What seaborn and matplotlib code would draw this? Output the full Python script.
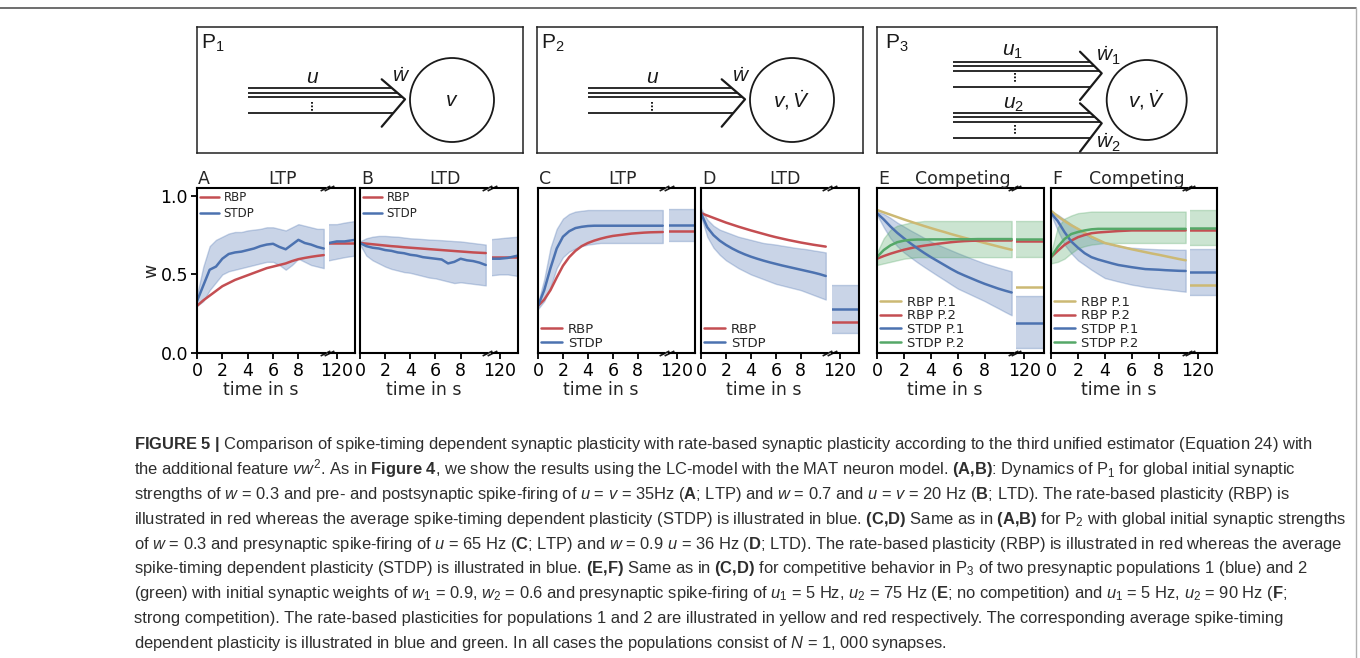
import matplotlib
matplotlib.use("Agg")
import matplotlib.pyplot as plt
import seaborn as sns
from matplotlib.patches import Circle
from matplotlib.lines import Line2D
from matplotlib import font_manager as fm

# ------------------------------------------------------------------ data
t_main = [0.0, 0.5, 1.0, 1.5, 2.0, 2.5, 3.0, 3.5, 4.0, 4.5, 5.0,
          5.5, 6.0, 6.5, 7.0, 7.5, 8.0, 8.5, 9.0, 9.5, 10.0]
t_late = [114, 117, 120, 123, 127]
main_ticks = [0, 2, 4, 6, 8]
late_ticks = [120]
y_ticks = [0.0, 0.5, 1.0]
y_ticklabels = ["0.0", "0.5", "1.0"]

# Panel A (P1, LTP)
A_rbp = [0.30, 0.335, 0.365, 0.395, 0.425, 0.445, 0.465, 0.48, 0.495, 0.51, 0.525,
         0.54, 0.55, 0.56, 0.57, 0.585, 0.597, 0.605, 0.612, 0.618, 0.623]
A_stdp = [0.33, 0.43, 0.53, 0.55, 0.60, 0.63, 0.64, 0.645, 0.655, 0.665, 0.68,
          0.69, 0.695, 0.675, 0.66, 0.69, 0.72, 0.70, 0.69, 0.675, 0.665]
A_hi = [0.37, 0.55, 0.68, 0.72, 0.74, 0.76, 0.77, 0.77, 0.78, 0.785, 0.79,
        0.80, 0.80, 0.79, 0.78, 0.80, 0.82, 0.81, 0.80, 0.79, 0.79]
A_lo = [0.30, 0.33, 0.40, 0.45, 0.50, 0.52, 0.53, 0.54, 0.55, 0.56, 0.57,
        0.58, 0.58, 0.56, 0.53, 0.56, 0.60, 0.58, 0.56, 0.55, 0.54]
A_rbp_late = [0.70, 0.70, 0.70, 0.70, 0.70]
A_stdp_late = [0.69, 0.70, 0.71, 0.71, 0.72]
A_hi_late = [0.81, 0.82, 0.82, 0.83, 0.84]
A_lo_late = [0.58, 0.59, 0.60, 0.61, 0.62]

# Panel B (P1, LTD)
B_rbp = [0.70, 0.696, 0.692, 0.688, 0.684, 0.68, 0.677, 0.673, 0.670, 0.667, 0.664,
         0.661, 0.658, 0.655, 0.652, 0.649, 0.646, 0.643, 0.640, 0.638, 0.636]
B_stdp = [0.70, 0.68, 0.67, 0.665, 0.655, 0.65, 0.64, 0.635, 0.625, 0.62, 0.61,
          0.605, 0.60, 0.595, 0.57, 0.58, 0.60, 0.59, 0.585, 0.575, 0.56]
B_hi = [0.71, 0.73, 0.74, 0.745, 0.745, 0.742, 0.74, 0.735, 0.73, 0.728, 0.725,
        0.722, 0.72, 0.718, 0.715, 0.712, 0.71, 0.705, 0.70, 0.695, 0.69]
B_lo = [0.69, 0.62, 0.59, 0.57, 0.55, 0.535, 0.525, 0.515, 0.51, 0.50, 0.49,
        0.48, 0.475, 0.465, 0.455, 0.445, 0.45, 0.445, 0.44, 0.435, 0.43]
B_rbp_late = [0.61, 0.61, 0.61, 0.61, 0.61]
B_stdp_late = [0.60, 0.60, 0.60, 0.605, 0.62]
B_hi_late = [0.72, 0.725, 0.73, 0.735, 0.74]
B_lo_late = [0.49, 0.495, 0.50, 0.50, 0.49]

# Panel C (P2, LTP)
C_rbp = [0.30, 0.34, 0.40, 0.48, 0.555, 0.61, 0.65, 0.68, 0.70, 0.715, 0.727,
         0.737, 0.745, 0.75, 0.755, 0.76, 0.763, 0.766, 0.768, 0.769, 0.77]
C_stdp = [0.30, 0.40, 0.54, 0.665, 0.74, 0.775, 0.795, 0.803, 0.808, 0.81, 0.81,
          0.81, 0.81, 0.81, 0.81, 0.81, 0.81, 0.81, 0.81, 0.81, 0.81]
C_hi = [0.32, 0.47, 0.67, 0.79, 0.855, 0.885, 0.90, 0.905, 0.91, 0.91, 0.91,
        0.91, 0.91, 0.91, 0.91, 0.91, 0.91, 0.91, 0.91, 0.91, 0.91]
C_lo = [0.28, 0.33, 0.42, 0.54, 0.61, 0.645, 0.665, 0.68, 0.69, 0.695, 0.70,
        0.70, 0.70, 0.70, 0.70, 0.70, 0.70, 0.70, 0.70, 0.70, 0.70]
C_rbp_late = [0.775, 0.775, 0.775, 0.775, 0.775]
C_stdp_late = [0.815, 0.815, 0.815, 0.815, 0.815]
C_hi_late = [0.915, 0.915, 0.915, 0.915, 0.915]
C_lo_late = [0.71, 0.71, 0.71, 0.71, 0.71]

# Panel D (P2, LTD)
D_rbp = [0.89, 0.875, 0.86, 0.845, 0.83, 0.817, 0.804, 0.792, 0.78, 0.769, 0.758,
         0.747, 0.737, 0.728, 0.719, 0.711, 0.703, 0.696, 0.689, 0.683, 0.677]
D_stdp = [0.89, 0.80, 0.75, 0.715, 0.688, 0.665, 0.645, 0.628, 0.613, 0.60, 0.588,
          0.577, 0.567, 0.557, 0.548, 0.539, 0.53, 0.521, 0.512, 0.502, 0.49]
D_hi = [0.92, 0.85, 0.81, 0.785, 0.77, 0.755, 0.74, 0.73, 0.72, 0.71, 0.70,
        0.695, 0.69, 0.683, 0.677, 0.67, 0.665, 0.66, 0.653, 0.647, 0.64]
D_lo = [0.87, 0.74, 0.67, 0.625, 0.59, 0.565, 0.54, 0.52, 0.50, 0.485, 0.47,
        0.455, 0.44, 0.43, 0.42, 0.41, 0.40, 0.385, 0.37, 0.355, 0.34]
D_rbp_late = [0.195, 0.195, 0.195, 0.195, 0.195]
D_stdp_late = [0.28, 0.28, 0.28, 0.28, 0.28]
D_hi_late = [0.43, 0.43, 0.43, 0.43, 0.43]
D_lo_late = [0.125, 0.125, 0.125, 0.125, 0.125]

# Panel E (P3, no competition)
E_rbp1 = [0.91, 0.895, 0.88, 0.865, 0.85, 0.836, 0.822, 0.808, 0.795, 0.782, 0.77,
          0.757, 0.745, 0.733, 0.722, 0.711, 0.70, 0.689, 0.678, 0.667, 0.657]
E_rbp2 = [0.60, 0.617, 0.632, 0.645, 0.657, 0.667, 0.676, 0.683, 0.689, 0.695, 0.70,
          0.705, 0.709, 0.712, 0.714, 0.715, 0.716, 0.716, 0.716, 0.716, 0.716]
E_stdp1 = [0.89, 0.85, 0.805, 0.765, 0.73, 0.697, 0.666, 0.637, 0.61, 0.585, 0.56,
           0.535, 0.512, 0.493, 0.475, 0.457, 0.44, 0.425, 0.41, 0.397, 0.385]
E_hi1 = [0.90, 0.885, 0.86, 0.83, 0.805, 0.78, 0.757, 0.733, 0.71, 0.69, 0.672,
         0.654, 0.636, 0.619, 0.602, 0.586, 0.57, 0.557, 0.544, 0.532, 0.52]
E_lo1 = [0.88, 0.80, 0.73, 0.68, 0.64, 0.608, 0.577, 0.548, 0.52, 0.492, 0.465,
         0.437, 0.41, 0.39, 0.37, 0.35, 0.33, 0.307, 0.285, 0.262, 0.24]
E_stdp2 = [0.61, 0.655, 0.685, 0.705, 0.715, 0.72, 0.722, 0.722, 0.723, 0.723, 0.723,
           0.724, 0.724, 0.724, 0.724, 0.725, 0.725, 0.725, 0.725, 0.725, 0.725]
E_hi2 = [0.64, 0.73, 0.785, 0.81, 0.82, 0.83, 0.835, 0.84, 0.84, 0.84, 0.84,
         0.84, 0.84, 0.84, 0.84, 0.84, 0.84, 0.84, 0.84, 0.84, 0.84]
E_lo2 = [0.56, 0.57, 0.58, 0.59, 0.60, 0.605, 0.61, 0.61, 0.61, 0.61, 0.61,
         0.61, 0.61, 0.61, 0.61, 0.61, 0.61, 0.61, 0.61, 0.61, 0.61]
E_rbp1_late = [0.42, 0.42, 0.42, 0.42, 0.42]
E_rbp2_late = [0.713, 0.713, 0.713, 0.713, 0.713]
E_stdp1_late = [0.193, 0.193, 0.193, 0.193, 0.193]
E_hi1_late = [0.36, 0.36, 0.36, 0.36, 0.36]
E_lo1_late = [0.03, 0.03, 0.03, 0.03, 0.03]
E_stdp2_late = [0.726, 0.726, 0.726, 0.726, 0.726]
E_hi2_late = [0.84, 0.84, 0.84, 0.84, 0.84]
E_lo2_late = [0.61, 0.61, 0.61, 0.61, 0.61]

# Panel F (P3, strong competition)
F_rbp1 = [0.905, 0.87, 0.84, 0.813, 0.79, 0.765, 0.74, 0.72, 0.70, 0.69, 0.68,
          0.67, 0.66, 0.651, 0.642, 0.633, 0.625, 0.616, 0.607, 0.598, 0.59]
F_rbp2 = [0.61, 0.65, 0.688, 0.715, 0.737, 0.751, 0.762, 0.767, 0.77, 0.773, 0.776,
          0.778, 0.78, 0.78, 0.78, 0.78, 0.78, 0.78, 0.78, 0.78, 0.78]
F_stdp1 = [0.89, 0.84, 0.77, 0.71, 0.67, 0.635, 0.61, 0.595, 0.583, 0.571, 0.56,
           0.553, 0.546, 0.54, 0.534, 0.532, 0.53, 0.527, 0.525, 0.523, 0.522]
F_hi1 = [0.90, 0.88, 0.85, 0.82, 0.79, 0.76, 0.73, 0.715, 0.70, 0.69, 0.68,
         0.675, 0.67, 0.667, 0.664, 0.662, 0.66, 0.659, 0.658, 0.657, 0.657]
F_lo1 = [0.88, 0.78, 0.69, 0.635, 0.59, 0.56, 0.53, 0.503, 0.477, 0.466, 0.455,
         0.445, 0.435, 0.428, 0.42, 0.415, 0.41, 0.405, 0.40, 0.395, 0.39]
F_stdp2 = [0.61, 0.675, 0.725, 0.757, 0.77, 0.78, 0.787, 0.79, 0.79, 0.79, 0.79,
           0.79, 0.79, 0.79, 0.79, 0.79, 0.79, 0.79, 0.79, 0.79, 0.79]
F_hi2 = [0.64, 0.80, 0.855, 0.875, 0.89, 0.895, 0.90, 0.90, 0.90, 0.90, 0.90,
         0.90, 0.90, 0.90, 0.90, 0.90, 0.90, 0.90, 0.90, 0.90, 0.90]
F_lo2 = [0.57, 0.58, 0.60, 0.635, 0.666, 0.68, 0.69, 0.695, 0.70, 0.70, 0.70,
         0.70, 0.70, 0.70, 0.70, 0.70, 0.70, 0.70, 0.70, 0.70, 0.70]
F_rbp1_late = [0.43, 0.43, 0.43, 0.43, 0.43]
F_rbp2_late = [0.78, 0.78, 0.78, 0.78, 0.78]
F_stdp1_late = [0.514, 0.514, 0.514, 0.514, 0.514]
F_hi1_late = [0.66, 0.66, 0.66, 0.66, 0.66]
F_lo1_late = [0.37, 0.37, 0.37, 0.37, 0.37]
F_stdp2_late = [0.798, 0.798, 0.798, 0.798, 0.798]
F_hi2_late = [0.91, 0.91, 0.91, 0.91, 0.91]
F_lo2_late = [0.69, 0.69, 0.69, 0.69, 0.69]

caption_lines = [
    r"$\mathbf{FIGURE\ 5\ |}$ Comparison of spike-timing dependent synaptic plasticity with rate-based synaptic plasticity according to the third unified estimator (Equation 24) with",
    r"the additional feature $vw^2$. As in $\mathbf{Figure\ 4}$, we show the results using the LC-model with the MAT neuron model. $\mathbf{(A{,}B)}$: Dynamics of P$_1$ for global initial synaptic",
    r"strengths of $w$ = 0.3 and pre- and postsynaptic spike-firing of $u$ = $v$ = 35Hz ($\mathbf{A}$; LTP) and $w$ = 0.7 and $u$ = $v$ = 20 Hz ($\mathbf{B}$; LTD). The rate-based plasticity (RBP) is",
    r"illustrated in red whereas the average spike-timing dependent plasticity (STDP) is illustrated in blue. $\mathbf{(C{,}D)}$ Same as in $\mathbf{(A{,}B)}$ for P$_2$ with global initial synaptic strengths",
    r"of $w$ = 0.3 and presynaptic spike-firing of $u$ = 65 Hz ($\mathbf{C}$; LTP) and $w$ = 0.9 $u$ = 36 Hz ($\mathbf{D}$; LTD). The rate-based plasticity (RBP) is illustrated in red whereas the average",
    r"spike-timing dependent plasticity (STDP) is illustrated in blue. $\mathbf{(E{,}F)}$ Same as in $\mathbf{(C{,}D)}$ for competitive behavior in P$_3$ of two presynaptic populations 1 (blue) and 2",
    r"(green) with initial synaptic weights of $w_1$ = 0.9, $w_2$ = 0.6 and presynaptic spike-firing of $u_1$ = 5 Hz, $u_2$ = 75 Hz ($\mathbf{E}$; no competition) and $u_1$ = 5 Hz, $u_2$ = 90 Hz ($\mathbf{F}$;",
    r"strong competition). The rate-based plasticities for populations 1 and 2 are illustrated in yellow and red respectively. The corresponding average spike-timing",
    r"dependent plasticity is illustrated in blue and green. In all cases the populations consist of $N$ = 1, 000 synapses.",
]

# ------------------------------------------------------------------ style
sns.set_theme(style="ticks", palette="deep")
names = {f.name for f in fm.fontManager.ttflist}
narrow = "Liberation Sans Narrow" in names
cap_font = "Liberation Sans Narrow" if narrow else "Liberation Sans"
cap_size = 13.2 if narrow else 11.9
plt.rcParams["font.family"] = ["DejaVu Sans"]
plt.rcParams["mathtext.fontset"] = "custom"
plt.rcParams["mathtext.rm"] = cap_font
plt.rcParams["mathtext.sf"] = cap_font
plt.rcParams["mathtext.it"] = cap_font + ":italic"
plt.rcParams["mathtext.bf"] = cap_font + ":bold"
plt.rcParams["axes.linewidth"] = 1.5
plt.rcParams["axes.edgecolor"] = "black"

pal = sns.color_palette("deep")
BLUE, RED, GREEN, YELLOW = pal[0], pal[3], pal[2], pal[8]

W, H = 1360, 658
fig = plt.figure(figsize=(W / 100, H / 100), dpi=100)
fig.patch.set_facecolor("white")


def px_axes(x0, x1, y0, y1):
    return fig.add_axes([x0 / W, 1 - y1 / H, (x1 - x0) / W, (y1 - y0) / H])


# page frame
fig.add_artist(Line2D([0, 1356 / W], [1 - 8 / H, 1 - 8 / H], color="#555555", lw=1.2,
                      transform=fig.transFigure))
fig.add_artist(Line2D([1356 / W, 1356 / W], [1 - 8 / H, 0], color="#b0b0b0", lw=1.0,
                      transform=fig.transFigure))

# ------------------------------------------------------------------ diagrams
K = "#1a1a1a"
DFS = 15


def diagram_axes(x0, y0, x1, y1):
    ax = px_axes(x0, x1, y0, y1)
    ax.set_xlim(x0, x1)
    ax.set_ylim(y1, y0)
    ax.set_xticks([])
    ax.set_yticks([])
    ax.set_facecolor("none")
    for s in ax.spines.values():
        s.set_linewidth(1.1)
        s.set_color("#222222")
    return ax


def chevron_x(y, top, tip, bot):
    if y <= tip[1]:
        f = (y - top[1]) / (tip[1] - top[1])
        return top[0] + f * (tip[0] - top[0])
    f = (y - tip[1]) / (bot[1] - tip[1])
    return tip[0] + f * (bot[0] - tip[0])


def bundle(ax, x0, ys, chev, dot_x, dot_y):
    for y in ys:
        ax.plot([x0, chevron_x(y, *chev)], [y, y], color=K, lw=1.3, solid_capstyle="butt")
    ax.plot([c[0] for c in chev], [c[1] for c in chev], color=K, lw=1.6)
    ax.plot([dot_x, dot_x], dot_y, color=K, lw=1.4, ls=(0, (0.9, 0.9)),
            dash_capstyle="butt")


for dx, ptxt, ctxt in [(0, "P$_1$", "$v$"), (340, "P$_2$", r"$v,\dot{V}$")]:
    ax = diagram_axes(197 + dx, 27, 523 + dx, 153)
    chev = ((381.7 + dx, 79.3), (405 + dx, 99.3), (381.7 + dx, 126.7))
    bundle(ax, 248 + dx, [88.3, 92.7, 97.3, 113.3], chev, 311.7 + dx, [101.7, 110.7])
    ax.add_patch(Circle((452 + dx, 100), 42, fill=False, ec=K, lw=1.3))
    ax.text(201 + dx, 43, ptxt, family=cap_font, fontsize=DFS, ha="left", va="center", color=K)
    ax.text(313 + dx, 77, "$u$", fontsize=DFS, ha="center", va="center", color=K)
    ax.text(401 + dx, 76, r"$\dot{w}$", fontsize=DFS, ha="center", va="center", color=K)
    ax.text(452 + dx, 100, ctxt, fontsize=DFS, ha="center", va="center", color=K)

ax = diagram_axes(877, 27, 1217, 153)
chev1 = ((1080, 51.7), (1101.7, 73.3), (1080, 100))
chev2 = ((1080, 103.3), (1101.7, 123.3), (1080, 151.7))
bundle(ax, 953, [61.7, 66, 70.7, 86.7], chev1, 1015, [73, 83])
bundle(ax, 953, [113.3, 117.3, 121.7, 138.3], chev2, 1015, [125, 135])
ax.add_patch(Circle((1146.7, 100), 40, fill=False, ec=K, lw=1.3))
ax.text(885, 43, "P$_3$", family=cap_font, fontsize=DFS, ha="left", va="center", color=K)
ax.text(1012, 51, "$u_1$", fontsize=DFS, ha="center", va="center", color=K)
ax.text(1013, 104, "$u_2$", fontsize=DFS, ha="center", va="center", color=K)
ax.text(1108, 56, r"$\dot{w}_1$", fontsize=DFS, ha="center", va="center", color=K)
ax.text(1108, 143, r"$\dot{w}_2$", fontsize=DFS, ha="center", va="center", color=K)
ax.text(1146.7, 100, r"$v,\dot{V}$", fontsize=DFS, ha="center", va="center", color=K)

# ------------------------------------------------------------------ panels
TOP, BOT = 188, 353
FS = 12.5


def panel(main_px, late_px, letter, title, title_x, bands, lines, leg_loc, leg_fs,
          leg_space, show_y):
    ax1 = px_axes(main_px[0], main_px[1], TOP, BOT)
    ax2 = px_axes(late_px[0], late_px[1], TOP, BOT)
    for color, lo, hi, lo_l, hi_l in bands:
        ax1.fill_between(t_main, lo, hi, color=color, alpha=0.3, lw=1.0)
        ax2.fill_between(t_late, lo_l, hi_l, color=color, alpha=0.3, lw=1.0)
    for label, color, y, y_l in lines:
        sns.lineplot(x=t_main, y=y, ax=ax1, color=color, lw=1.8, label=label)
        sns.lineplot(x=t_late, y=y_l, ax=ax2, color=color, lw=1.8, legend=False)
    for a in (ax1, ax2):
        a.set_ylim(0, 1.05)
        a.tick_params(axis="both", direction="out", length=4, width=1.3, pad=2.5,
                      labelsize=FS, colors="black")
        a.set_facecolor("none")
    ax1.set_xlim(0, 10.1)
    ax1.set_xticks(main_ticks)
    ax2.set_xlim(117, 127)
    ax2.set_xticks(late_ticks)
    ax2.set_yticks([])
    ax1.spines["right"].set_visible(False)
    ax2.spines["left"].set_visible(False)
    if show_y:
        ax1.set_yticks(y_ticks)
        ax1.set_yticklabels(y_ticklabels)
        ax1.set_ylabel("w", fontsize=FS, labelpad=0)
    else:
        ax1.set_yticks([])
        ax1.set_ylabel("")
    ax1.set_xlabel("time in s", fontsize=FS, labelpad=0.5)
    ax2.set_xlabel("")
    ax1.legend(loc=leg_loc, fontsize=leg_fs, frameon=False, handlelength=1.6,
               handletextpad=0.4, borderaxespad=0.15, borderpad=0.1,
               labelspacing=leg_space)
    # break marks
    d = 0.5
    kw = dict(marker=[(-1, -d), (1, d)], markersize=7, linestyle="none", color="k",
              mec="k", mew=1.2, clip_on=False)
    ax1.plot([1, 1], [0, 1], transform=ax1.transAxes, **kw)
    ax2.plot([0, 0], [0, 1], transform=ax2.transAxes, **kw)
    fig.text((main_px[0] + 1) / W, 1 - 183.5 / H, letter, fontsize=FS, ha="left",
             va="baseline")
    fig.text(title_x / W, 1 - 183.5 / H, title, fontsize=FS, ha="center", va="baseline")


panel((197, 325), (329, 355), "A", "LTP", 283,
      [(BLUE, A_lo, A_hi, A_lo_late, A_hi_late)],
      [("RBP", RED, A_rbp, A_rbp_late), ("STDP", BLUE, A_stdp, A_stdp_late)],
      "upper left", 8.5, 0.3, True)
panel((360, 487), (492, 518), "B", "LTD", 445,
      [(BLUE, B_lo, B_hi, B_lo_late, B_hi_late)],
      [("RBP", RED, B_rbp, B_rbp_late), ("STDP", BLUE, B_stdp, B_stdp_late)],
      "upper left", 8.5, 0.3, False)
panel((538, 664), (669, 695), "C", "LTP", 623,
      [(BLUE, C_lo, C_hi, C_lo_late, C_hi_late)],
      [("RBP", RED, C_rbp, C_rbp_late), ("STDP", BLUE, C_stdp, C_stdp_late)],
      "lower left", 9.5, 0.05, False)
panel((701, 827), (832, 859), "D", "LTD", 785,
      [(BLUE, D_lo, D_hi, D_lo_late, D_hi_late)],
      [("RBP", RED, D_rbp, D_rbp_late), ("STDP", BLUE, D_stdp, D_stdp_late)],
      "lower left", 9.5, 0.05, False)
panel((877, 1013), (1016, 1044), "E", "Competing", 963,
      [(BLUE, E_lo1, E_hi1, E_lo1_late, E_hi1_late),
       (GREEN, E_lo2, E_hi2, E_lo2_late, E_hi2_late)],
      [("RBP P.1", YELLOW, E_rbp1, E_rbp1_late), ("RBP P.2", RED, E_rbp2, E_rbp2_late),
       ("STDP P.1", BLUE, E_stdp1, E_stdp1_late), ("STDP P.2", GREEN, E_stdp2, E_stdp2_late)],
      "lower left", 9.5, 0.05, False)
panel((1051, 1187), (1190, 1217), "F", "Competing", 1137,
      [(BLUE, F_lo1, F_hi1, F_lo1_late, F_hi1_late),
       (GREEN, F_lo2, F_hi2, F_lo2_late, F_hi2_late)],
      [("RBP P.1", YELLOW, F_rbp1, F_rbp1_late), ("RBP P.2", RED, F_rbp2, F_rbp2_late),
       ("STDP P.1", BLUE, F_stdp1, F_stdp1_late), ("STDP P.2", GREEN, F_stdp2, F_stdp2_late)],
      "lower left", 9.5, 0.05, False)

# ------------------------------------------------------------------ caption
for i, line in enumerate(caption_lines):
    fig.text(134 / W, 1 - (449 + 24.9 * i) / H, line, family=cap_font, fontsize=cap_size,
             ha="left", va="baseline", color="#2e2e2e")

fig.savefig("out.png", dpi=100, facecolor="white")
